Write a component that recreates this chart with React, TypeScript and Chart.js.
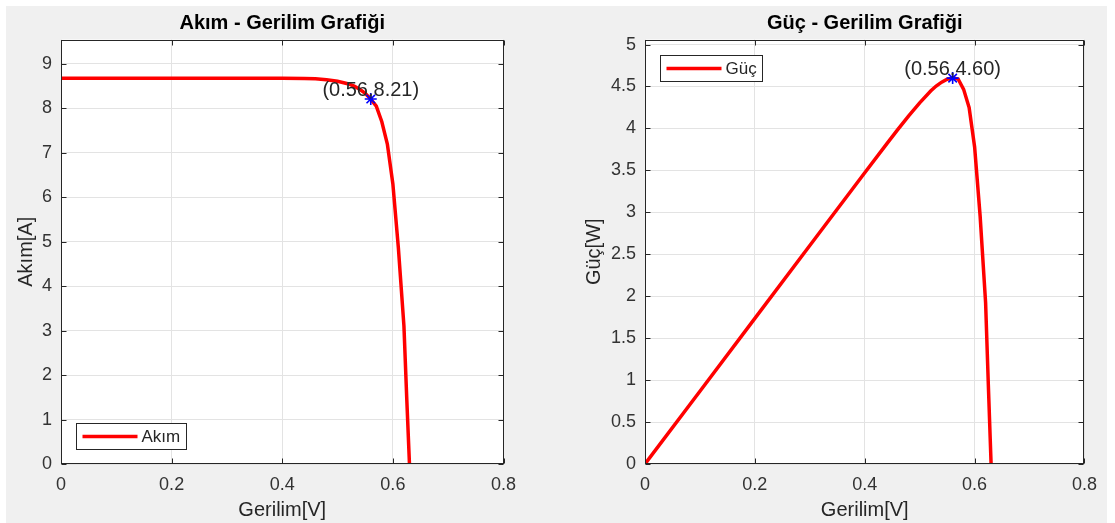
import React, { useEffect, useRef } from "react";
import { Chart, registerables } from "chart.js";

Chart.register(...registerables);

// ---------- data ----------
const voltage = [0, 0.1, 0.2, 0.3, 0.4, 0.44, 0.46, 0.48, 0.5, 0.52, 0.53, 0.54, 0.55, 0.56, 0.57, 0.58, 0.59, 0.6, 0.61, 0.62, 0.625, 0.63];
const current = [8.68, 8.68, 8.68, 8.68, 8.677, 8.672, 8.665, 8.645, 8.61, 8.55, 8.5, 8.43, 8.34, 8.21, 8.05, 7.7, 7.2, 6.3, 4.85, 3.1, 1.5, 0];
const power = [0, 0.868, 1.736, 2.604, 3.471, 3.816, 3.986, 4.15, 4.305, 4.446, 4.505, 4.552, 4.587, 4.6, 4.589, 4.466, 4.248, 3.78, 2.959, 1.922, 0.938, 0];

const mppVoltage = 0.56;
const mppCurrent = 8.21;
const mppPower = 4.6;

const voltageTicks = [0, 0.2, 0.4, 0.6, 0.8];
const currentTicks = [0, 1, 2, 3, 4, 5, 6, 7, 8, 9];
const powerTicks = [0, 0.5, 1, 1.5, 2, 2.5, 3, 3.5, 4, 4.5, 5];

const voltageMax = 0.8;
const currentMax = 9.55;
const powerMax = 5.06;

const FONT = "'Liberation Sans', Arial, Helvetica, sans-serif";
const AXIS_COLOR = "#262626";

const matlabFrame = {
  id: "matlabFrame",
  beforeDraw(chart: any) {
    const { ctx, chartArea: a } = chart;
    ctx.save();
    ctx.fillStyle = "#ffffff";
    ctx.fillRect(a.left, a.top, a.right - a.left, a.bottom - a.top);
    ctx.restore();
  },
  afterDraw(chart: any, _args: any, opts: any) {
    const { ctx, chartArea: a, scales } = chart;
    const xs = scales.x;
    const ys = scales.y;
    ctx.save();

    // title
    ctx.fillStyle = "#000000";
    ctx.font = `bold 20px ${FONT}`;
    ctx.textAlign = "center";
    ctx.textBaseline = "middle";
    ctx.fillText(opts.title, (a.left + a.right) / 2, 17);

    // box and inward ticks
    const L = Math.round(a.left) + 0.5;
    const R = Math.round(a.right) - 0.5;
    const T = Math.round(a.top) + 0.5;
    const B = Math.round(a.bottom) - 0.5;
    ctx.strokeStyle = AXIS_COLOR;
    ctx.lineWidth = 1;
    ctx.beginPath();
    xs.ticks.forEach((t: any) => {
      const p = Math.round(xs.getPixelForValue(t.value)) + 0.5;
      ctx.moveTo(p, B);
      ctx.lineTo(p, B - 5);
      ctx.moveTo(p, T);
      ctx.lineTo(p, T + 5);
    });
    ys.ticks.forEach((t: any) => {
      const p = Math.round(ys.getPixelForValue(t.value)) + 0.5;
      ctx.moveTo(L, p);
      ctx.lineTo(L + 5, p);
      ctx.moveTo(R, p);
      ctx.lineTo(R - 5, p);
    });
    ctx.stroke();
    ctx.strokeRect(L, T, R - L, B - T);

    // annotation of the marked point
    const px = xs.getPixelForValue(opts.markX);
    const py = ys.getPixelForValue(opts.markY);
    ctx.font = `20px ${FONT}`;
    ctx.fillStyle = AXIS_COLOR;
    ctx.textAlign = "center";
    ctx.textBaseline = "alphabetic";
    ctx.fillText(opts.markText, px, py - 3);

    // legend inside the axes
    ctx.font = `17px ${FONT}`;
    const tw = ctx.measureText(opts.legendLabel).width;
    const w = Math.round(6 + 55 + 4 + tw + 6);
    const h = 26;
    const bx = Math.round(a.left + 15) + 0.5;
    const by = opts.legendCorner === "sw" ? Math.round(a.bottom - 15 - h) + 0.5 : Math.round(a.top + 15) + 0.5;
    ctx.fillStyle = "#ffffff";
    ctx.fillRect(bx, by, w, h);
    ctx.strokeStyle = AXIS_COLOR;
    ctx.strokeRect(bx, by, w, h);
    ctx.strokeStyle = "#ff0000";
    ctx.lineWidth = 3.5;
    ctx.beginPath();
    ctx.moveTo(bx + 6, by + h / 2);
    ctx.lineTo(bx + 61, by + h / 2);
    ctx.stroke();
    ctx.fillStyle = AXIS_COLOR;
    ctx.textAlign = "left";
    ctx.textBaseline = "middle";
    ctx.fillText(opts.legendLabel, bx + 65, by + h / 2 + 1);

    ctx.restore();
  },
};

type PanelProps = {
  left: number;
  width: number;
  yAxisWidth: number;
  rightPad: number;
  yTitlePad: number;
  title: string;
  yTitle: string;
  legendLabel: string;
  legendCorner: "sw" | "nw";
  ys: number[];
  yTicks: number[];
  yMax: number;
  markY: number;
};

function Panel(p: PanelProps) {
  const ref = useRef<HTMLCanvasElement>(null);
  useEffect(() => {
    const chart = new Chart(ref.current!, {
      type: "scatter",
      data: {
        datasets: [
          {
            label: "mpp",
            data: [{ x: mppVoltage, y: p.markY }],
            pointStyle: "star",
            pointRadius: 6,
            borderColor: "#0000ff",
            backgroundColor: "#0000ff",
            borderWidth: 1.6,
            showLine: false,
            order: 0,
          } as any,
          {
            label: p.legendLabel,
            data: voltage.map((v, i) => ({ x: v, y: p.ys[i] })),
            showLine: true,
            borderColor: "#ff0000",
            backgroundColor: "#ff0000",
            borderWidth: 3.5,
            pointRadius: 0,
            tension: 0,
            fill: false,
            order: 1,
          } as any,
        ],
      },
      options: {
        responsive: false,
        animation: false,
        events: [],
        layout: { padding: { top: 33.5, right: p.rightPad, bottom: 0, left: 0 } },
        plugins: {
          legend: { display: false },
          tooltip: { enabled: false },
          title: { display: false },
          matlabFrame: {
            title: p.title,
            markX: mppVoltage,
            markY: p.markY,
            markText: `(${mppVoltage.toFixed(2)},${p.markY.toFixed(2)})`,
            legendLabel: p.legendLabel,
            legendCorner: p.legendCorner,
          },
        } as any,
        scales: {
          x: {
            type: "linear",
            min: 0,
            max: voltageMax,
            afterBuildTicks: (s: any) => {
              s.ticks = voltageTicks.map((v) => ({ value: v }));
            },
            afterFit: (s: any) => {
              s.height = 59;
            },
            ticks: {
              callback: (v: any) => String(v),
              font: { family: FONT, size: 18 },
              color: "#333333",
              padding: 10,
              maxRotation: 0,
              autoSkip: false,
            },
            grid: { color: "#e3e3e3", lineWidth: 1, drawTicks: false },
            border: { display: false },
            title: {
              display: true,
              text: "Gerilim[V]",
              font: { family: FONT, size: 20 },
              color: AXIS_COLOR,
              padding: { top: 0, bottom: 1 },
            },
          },
          y: {
            type: "linear",
            min: 0,
            max: p.yMax,
            afterBuildTicks: (s: any) => {
              s.ticks = p.yTicks.map((v) => ({ value: v }));
            },
            afterFit: (s: any) => {
              s.width = p.yAxisWidth;
            },
            ticks: {
              callback: (v: any) => String(v),
              font: { family: FONT, size: 18 },
              color: "#333333",
              padding: 9,
              autoSkip: false,
            },
            grid: { color: "#e3e3e3", lineWidth: 1, drawTicks: false },
            border: { display: false },
            title: {
              display: true,
              text: p.yTitle,
              font: { family: FONT, size: 20 },
              color: AXIS_COLOR,
              padding: { top: p.yTitlePad, bottom: 0 },
            },
          },
        } as any,
      },
      plugins: [matlabFrame],
    } as any);
    return () => chart.destroy();
  }, []);
  return (
    <canvas
      ref={ref}
      width={p.width}
      height={517}
      style={{ position: "absolute", left: p.left, top: 0, width: p.width, height: 517 }}
    />
  );
}

export default function App() {
  return (
    <div style={{ position: "fixed", left: 0, top: 0, width: 1115, height: 523, background: "#ffffff", overflow: "hidden" }}>
      <div style={{ position: "absolute", left: 6, top: 6, width: 1101, height: 517, background: "#f0f0f0" }}>
        <Panel
          left={0}
          width={550}
          yAxisWidth={55}
          rightPad={52.5}
          yTitlePad={8}
          title="Akım - Gerilim Grafiği"
          yTitle="Akım[A]"
          legendLabel="Akım"
          legendCorner="sw"
          ys={current}
          yTicks={currentTicks}
          yMax={currentMax}
          markY={mppCurrent}
        />
        <Panel
          left={550}
          width={551}
          yAxisWidth={89}
          rightPad={19}
          yTitlePad={26}
          title="Güç - Gerilim Grafiği"
          yTitle="Güç[W]"
          legendLabel="Güç"
          legendCorner="nw"
          ys={power}
          yTicks={powerTicks}
          yMax={powerMax}
          markY={mppPower}
        />
      </div>
    </div>
  );
}
